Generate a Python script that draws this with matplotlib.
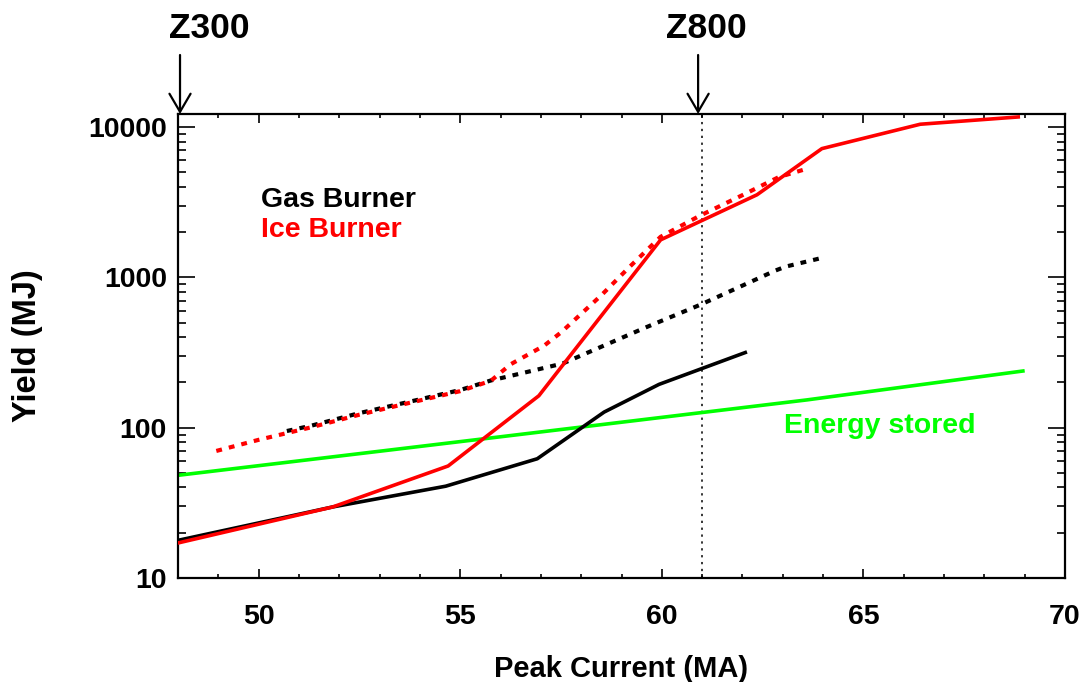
import matplotlib
matplotlib.use("Agg")
import matplotlib.pyplot as plt
from matplotlib.ticker import MultipleLocator, LogLocator, FuncFormatter, NullFormatter

plt.rcParams['font.family'] = ['Liberation Sans', 'DejaVu Sans']
plt.rcParams['font.weight'] = 'bold'

# ---- data ----
gas_solid_x = [48, 51.84, 54.64, 56.91, 58.57, 59.93, 62.07]
gas_solid_y = [17.8, 29.7, 40.8, 62.1, 127, 194, 316]

ice_solid_x = [48, 51.84, 54.70, 56.95, 59.97, 62.36, 63.97, 66.41, 68.84]
ice_solid_y = [17.1, 29.7, 55.6, 163, 1775, 3540, 7180, 10430, 11660]

gas_dot_x = [50.7, 51.3, 52.5, 53.8, 55.0, 55.76, 56.25, 57.54, 59.6, 60.96, 61.54, 62.82, 63.07, 64.04]
gas_dot_y = [95, 103, 125, 150, 178, 206, 221, 267, 464, 658, 774, 1110, 1178, 1360]

ice_dot_x = [48.95, 50.0, 51.3, 52.5, 53.78, 55.0, 55.76, 56.25, 57.08, 57.5, 58.5, 59.19, 59.97, 60.92, 61.99, 62.9, 63.54]
ice_dot_y = [70, 83, 100.5, 122, 147, 175, 205, 264, 351, 430, 760, 1166, 1860, 2550, 3510, 4640, 5220]

energy_x = [48, 55.5, 63.6, 69]
energy_y = [48.2, 83.8, 153, 239]

machine_names = ["Z300", "Z800"]
machine_current = [48.05, 60.9]
z800_line_x = 61.0

x_ticks = [50, 55, 60, 65, 70]
y_ticks = [10, 100, 1000, 10000]

W, H = 1085, 682
fig = plt.figure(figsize=(W / 100, H / 100), dpi=100)
L, R, T, B = 178, 1065, 114, 578
ax = fig.add_axes([L / W, 1 - B / H, (R - L) / W, (B - T) / H])

ax.set_xlim(48, 70)
ax.set_yscale('log')
ax.set_ylim(10, 12200)

lw = 2.6
dots = (0, (1.4, 1.7))
ax.plot(energy_x, energy_y, color=(0, 1, 0), lw=lw, solid_capstyle='butt', zorder=2)
ax.plot(gas_dot_x, gas_dot_y, color='black', lw=3.0, linestyle=dots, zorder=3)
ax.plot(ice_dot_x, ice_dot_y, color='red', lw=3.0, linestyle=dots, zorder=4)
ax.plot(gas_solid_x, gas_solid_y, color='black', lw=lw, zorder=5)
ax.plot(ice_solid_x, ice_solid_y, color='red', lw=lw, zorder=6)

ax.axvline(z800_line_x, color='black', lw=1.1, linestyle=(0, (1.5, 3.0)), zorder=1)

# ticks
ax.xaxis.set_major_locator(MultipleLocator(5))
ax.xaxis.set_minor_locator(MultipleLocator(1))
ax.set_xticks(x_ticks)
ax.set_yticks(y_ticks)
ax.yaxis.set_major_formatter(FuncFormatter(lambda v, p: f"{int(round(v))}"))
ax.yaxis.set_minor_locator(LogLocator(base=10, subs=range(2, 10)))
ax.yaxis.set_minor_formatter(NullFormatter())

ax.tick_params(which='both', direction='in', top=True, right=True, width=1.2, colors='black')
ax.tick_params(axis='x', which='major', length=6.5, pad=19, labelsize=20.5)
ax.tick_params(axis='x', which='minor', length=3)
ax.tick_params(axis='y', which='major', length=12.5, pad=8, labelsize=20.5)
ax.tick_params(axis='y', which='minor', length=6)
for lab in ax.get_xticklabels() + ax.get_yticklabels():
    lab.set_fontweight('bold')
for s in ax.spines.values():
    s.set_linewidth(1.6)

# labels
fig.text(621.5 / W, 1 - 677 / H, 'Peak Current (MA)', ha='center', va='baseline', fontsize=21, fontweight='bold')
fig.text(28 / W, 1 - 346 / H, 'Yield (MJ)', ha='center', va='center', rotation=90, fontsize=23.5, fontweight='bold')

ax.text(50.05, 2938, 'Gas Burner', color='black', fontsize=20.5, fontweight='bold', ha='left', va='baseline')
ax.text(50.05, 1857, 'Ice Burner', color='red', fontsize=20.5, fontweight='bold', ha='left', va='baseline')
ax.text(63.02, 91.8, 'Energy stored', color=(0, 1, 0), fontsize=20.5, fontweight='bold', ha='left', va='baseline')

# machine arrows
text_cx = [209, 706]
for name, xc, tcx in zip(machine_names, machine_current, text_cx):
    ax.annotate('', xy=(xc, 1.0), xycoords=('data', 'axes fraction'),
                xytext=(xc, 1.0 + (T - 55) / (B - T)), textcoords=('data', 'axes fraction'),
                arrowprops=dict(arrowstyle='->,head_length=0.65,head_width=0.38', lw=1.6, color='black',
                                mutation_scale=20, shrinkA=0, shrinkB=0),
                annotation_clip=False)
    fig.text(tcx / W, 1 - 38 / H, name, ha='center', va='baseline', fontsize=25.5, fontweight='bold')

fig.savefig('out.png', dpi=100)
